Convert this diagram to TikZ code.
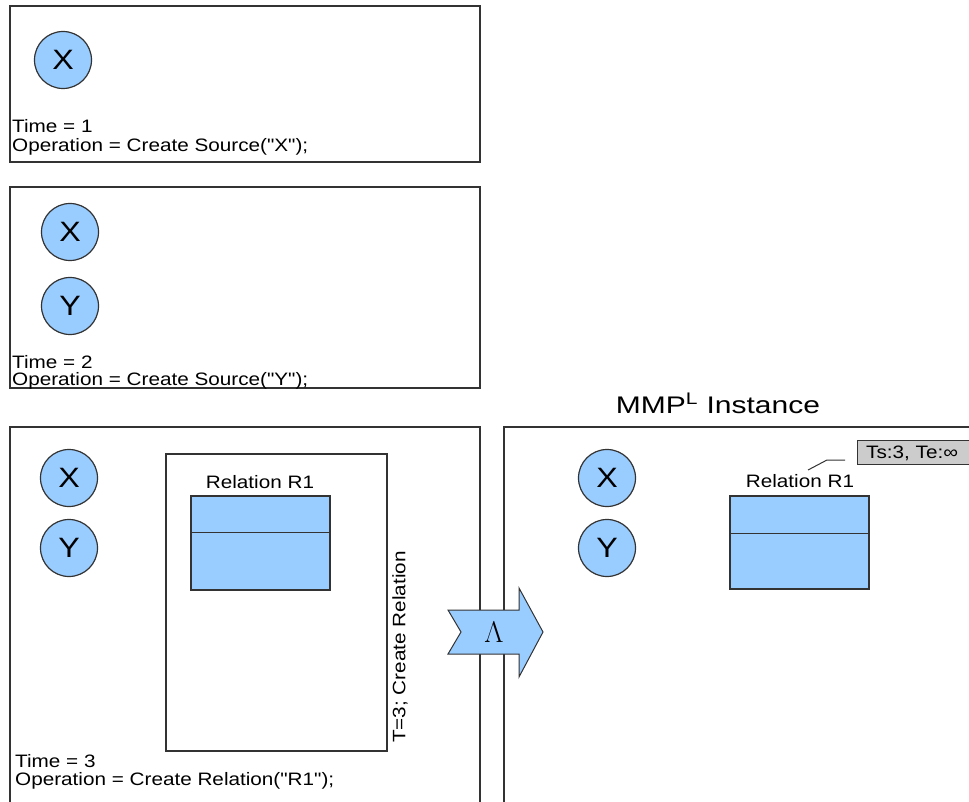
\documentclass[tikz,border=0pt]{standalone}
\usepackage{fontspec}
\setmainfont{Liberation Sans}[Ligatures=TeXOff]
\usepackage{graphicx}
\definecolor{fillblue}{HTML}{99CCFF}
\definecolor{edgegray}{HTML}{333333}
\definecolor{tagfill}{HTML}{CCCCCC}
\newcommand{\sx}[1]{\scalebox{1.15}[1]{#1}}
\begin{document}
\begin{tikzpicture}[x=1pt,y=-1pt,
  frame/.style={draw=edgegray, line width=1.2pt},
  src/.style={circle, draw=edgegray, fill=fillblue, line width=1.2pt, minimum size=57pt, inner sep=0pt, font=\fontsize{28}{28}\selectfont},
  lbl/.style={anchor=base west, inner sep=0pt, font=\fontsize{18}{18}\selectfont},
  clbl/.style={anchor=base, inner sep=0pt, font=\fontsize{18}{18}\selectfont},
  tab/.style={draw=edgegray, fill=fillblue, line width=1.2pt, minimum width=139pt, minimum height=94pt, inner sep=0pt},
  inner/.style={draw=edgegray, line width=1.2pt, minimum width=221pt, minimum height=297pt, inner sep=0pt}]
\useasboundingbox (0,0) rectangle (969,802);
\clip (0,0) rectangle (969,802);
\fill[white] (0,0) rectangle (969,802);

% Box 1
\node[frame, minimum width=470pt, minimum height=156pt, inner sep=0pt] (box1) at (245,84) {};
\node[src] (x1) at (63,60) {\sx{X}};
\node[lbl] (t1) at (12,133) {\sx{Time = 1}};
\node[lbl] (o1) at (12,151.5) {\sx{Operation = Create Source("X");}};

% Box 2
\node[frame, minimum width=470pt, minimum height=201pt, inner sep=0pt] (box2) at (245,287.5) {};
\node[src] (x2) at (70,232) {\sx{X}};
\node[src] (y2) at (70,306) {\sx{Y}};
\node[lbl] (t2) at (12,368) {\sx{Time = 2}};
\node[lbl] (o2) at (12,385.5) {\sx{Operation = Create Source("Y");}};

% Box 3
\draw[frame] (10,830) -- (10,427) -- (480,427) -- (480,830);
\node[src] (x3) at (69,478) {\sx{X}};
\node[src] (y3) at (69,548) {\sx{Y}};
\node[inner] (frame3) at (276.5,602.5) {};
\node[clbl] (rel3) at (260,488) {\sx{Relation R1}};
\node[tab] (tab3) at (260.5,543) {};
\draw[edgegray, line width=1.2pt] ([yshift=-37pt]tab3.north west) -- ([yshift=-37pt]tab3.north east);
\node[rotate=90, inner sep=0pt, font=\fontsize{18}{18}\selectfont] (op3) at (400,647) {\sx{T=3; Create Relation}};
\node[lbl] (t3) at (15,767) {\sx{Time = 3}};
\node[lbl] (o3) at (15,785.5) {\sx{Operation = Create Relation("R1");}};

% Right box
\node[inner sep=0pt, font=\fontsize{24}{24}\selectfont] (title) at (718,403) {\scalebox{1.25}[1]{MMP\textsuperscript{L} Instance}};
\draw[frame] (504,830) -- (504,427) -- (990,427);
\node[src] (xr) at (607,478) {\sx{X}};
\node[src] (yr) at (607,548) {\sx{Y}};
\node[clbl] (relr) at (800,487) {\sx{Relation R1}};
\node[tab, minimum height=93pt] (tabr) at (799.5,542.5) {};
\draw[edgegray, line width=1.2pt] ([yshift=-38pt]tabr.north west) -- ([yshift=-38pt]tabr.north east);
\node[draw=edgegray, fill=tagfill, line width=1.2pt, minimum width=120pt, minimum height=24pt, inner sep=0pt, anchor=north west] (tag) at (857,440) {};
\node[lbl] (tagtxt) at (866,458) {\sx{Ts:3, Te:∞}};
\coordinate (lead) at (808,470);
\coordinate (leadend) at (845,460);
\draw[edgegray, line width=1pt] (lead) -- (827,460) -- (leadend);

% Lambda arrow
\draw[edgegray, fill=fillblue, line width=1pt, line join=miter]
  (448,610) -- (519,610) -- (519,588) -- (543,632) -- (519,677) -- (519,654) -- (448,654) -- (461,632) -- cycle;
\node[inner sep=0pt, font=\fontsize{26}{26}\selectfont\rmfamily] (lam) at (494,632) {\scalebox{1.2}{$\Lambda$}};
\end{tikzpicture}
\end{document}
